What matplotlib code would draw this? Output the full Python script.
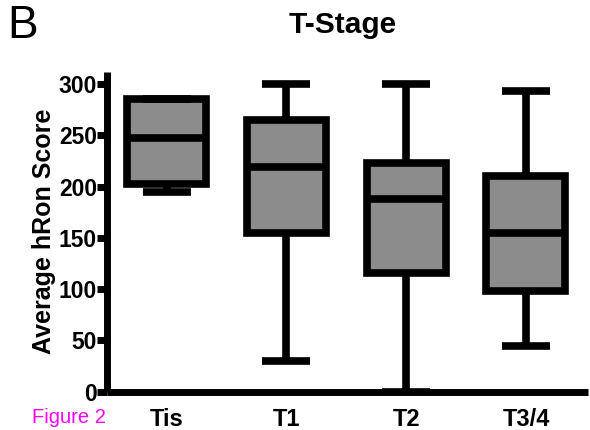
import matplotlib
matplotlib.use("Agg")
import matplotlib.pyplot as plt

categories = ["Tis", "T1", "T2", "T3/4"]
whislo = [195, 30, 0, 45]
q1 = [203, 155, 116, 98]
med = [247, 219, 188, 155]
q3 = [285, 265, 223, 210]
whishi = [285, 300, 300, 293]
yticks = [0, 50, 100, 150, 200, 250, 300]

plt.rcParams['font.family'] = ['Liberation Sans', 'DejaVu Sans']

fig = plt.figure(figsize=(5.9, 4.3), dpi=100)
ax = fig.add_axes([0.181, 0.089, 0.816, 0.744])

stats = [dict(label=c, whislo=a, q1=b, med=m, q3=d, whishi=e)
         for c, a, b, m, d, e in zip(categories, whislo, q1, med, q3, whishi)]

lw = 5.5
ax.bxp(stats, positions=range(len(categories)), widths=0.66, capwidths=0.40,
       showfliers=False, patch_artist=True,
       boxprops=dict(facecolor='#8c8c8c', edgecolor='black', linewidth=lw),
       medianprops=dict(color='black', linewidth=lw, solid_capstyle='butt'),
       whiskerprops=dict(color='black', linewidth=lw, solid_capstyle='butt'),
       capprops=dict(color='black', linewidth=lw, solid_capstyle='butt'))

ax.set_xlim(-0.5, 3.52)
ax.set_ylim(0, 312)
ax.set_yticks(yticks)
ax.set_yticklabels([str(t) for t in yticks], fontsize=16.5, fontweight='bold')
ax.set_xticks(range(len(categories)))
ax.set_xticklabels(categories, fontsize=17, fontweight='bold')
ax.tick_params(axis='y', direction='out', length=7, width=5, pad=0)
ax.tick_params(axis='x', length=0, pad=12)
for s in ['top', 'right']:
    ax.spines[s].set_visible(False)
for s in ['left', 'bottom']:
    ax.spines[s].set_linewidth(5)
    ax.spines[s].set_capstyle('butt')
ax.set_ylabel("Average hRon Score", fontsize=18, fontweight='bold', labelpad=2)

fig.text(0.58, 0.942, "T-Stage", fontsize=21.5, fontweight='bold', ha='center', va='center')
fig.text(0.012, 0.94, "B", fontsize=33, ha='left', va='center')
fig.text(0.055, 0.016, "Figure 2", fontsize=14.5, color='#ff00ff', ha='left', va='baseline')

fig.savefig("out.png", dpi=100)
